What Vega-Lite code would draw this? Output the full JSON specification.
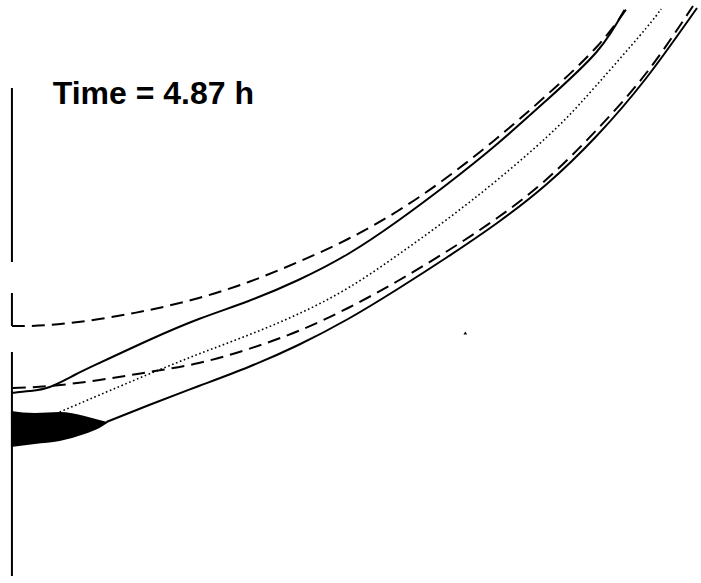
{
  "$schema": "https://vega.github.io/schema/vega-lite/v6.json",
  "width": 701,
  "height": 583,
  "padding": 0,
  "autosize": {"type": "fit", "contains": "padding"},
  "background": "white",
  "config": {"view": {"stroke": null}},
  "datasets": {
    "curves": [
      {"series": "upperDashed", "style": "dashed", "x": 12, "y": 326},
      {"series": "upperDashed", "style": "dashed", "x": 50, "y": 325},
      {"series": "upperDashed", "style": "dashed", "x": 100, "y": 319},
      {"series": "upperDashed", "style": "dashed", "x": 150, "y": 310},
      {"series": "upperDashed", "style": "dashed", "x": 200, "y": 298},
      {"series": "upperDashed", "style": "dashed", "x": 250, "y": 282},
      {"series": "upperDashed", "style": "dashed", "x": 300, "y": 262},
      {"series": "upperDashed", "style": "dashed", "x": 350, "y": 239},
      {"series": "upperDashed", "style": "dashed", "x": 400, "y": 211},
      {"series": "upperDashed", "style": "dashed", "x": 450, "y": 177},
      {"series": "upperDashed", "style": "dashed", "x": 500, "y": 138},
      {"series": "upperDashed", "style": "dashed", "x": 550, "y": 95},
      {"series": "upperDashed", "style": "dashed", "x": 600, "y": 47},
      {"series": "upperDashed", "style": "dashed", "x": 632, "y": 6},

      {"series": "upperSolid", "style": "solid", "x": 12, "y": 393},
      {"series": "upperSolid", "style": "solid", "x": 30, "y": 391},
      {"series": "upperSolid", "style": "solid", "x": 50, "y": 387},
      {"series": "upperSolid", "style": "solid", "x": 75, "y": 375},
      {"series": "upperSolid", "style": "solid", "x": 100, "y": 363},
      {"series": "upperSolid", "style": "solid", "x": 150, "y": 340},
      {"series": "upperSolid", "style": "solid", "x": 200, "y": 319},
      {"series": "upperSolid", "style": "solid", "x": 250, "y": 301},
      {"series": "upperSolid", "style": "solid", "x": 300, "y": 280},
      {"series": "upperSolid", "style": "solid", "x": 350, "y": 254},
      {"series": "upperSolid", "style": "solid", "x": 400, "y": 221},
      {"series": "upperSolid", "style": "solid", "x": 450, "y": 184},
      {"series": "upperSolid", "style": "solid", "x": 500, "y": 144},
      {"series": "upperSolid", "style": "solid", "x": 550, "y": 100},
      {"series": "upperSolid", "style": "solid", "x": 600, "y": 52},
      {"series": "upperSolid", "style": "solid", "x": 628, "y": 10},

      {"series": "lowerDashed", "style": "dashed", "x": 13, "y": 388},
      {"series": "lowerDashed", "style": "dashed", "x": 50, "y": 386},
      {"series": "lowerDashed", "style": "dashed", "x": 100, "y": 380},
      {"series": "lowerDashed", "style": "dashed", "x": 150, "y": 372},
      {"series": "lowerDashed", "style": "dashed", "x": 200, "y": 363},
      {"series": "lowerDashed", "style": "dashed", "x": 250, "y": 349},
      {"series": "lowerDashed", "style": "dashed", "x": 300, "y": 331},
      {"series": "lowerDashed", "style": "dashed", "x": 350, "y": 308},
      {"series": "lowerDashed", "style": "dashed", "x": 400, "y": 281},
      {"series": "lowerDashed", "style": "dashed", "x": 450, "y": 251},
      {"series": "lowerDashed", "style": "dashed", "x": 500, "y": 218},
      {"series": "lowerDashed", "style": "dashed", "x": 550, "y": 179},
      {"series": "lowerDashed", "style": "dashed", "x": 600, "y": 130},
      {"series": "lowerDashed", "style": "dashed", "x": 650, "y": 73},
      {"series": "lowerDashed", "style": "dashed", "x": 697, "y": 6},

      {"series": "lowerSolid", "style": "solid", "x": 107, "y": 422},
      {"series": "lowerSolid", "style": "solid", "x": 150, "y": 405},
      {"series": "lowerSolid", "style": "solid", "x": 200, "y": 386},
      {"series": "lowerSolid", "style": "solid", "x": 250, "y": 367},
      {"series": "lowerSolid", "style": "solid", "x": 300, "y": 345},
      {"series": "lowerSolid", "style": "solid", "x": 350, "y": 319},
      {"series": "lowerSolid", "style": "solid", "x": 400, "y": 289},
      {"series": "lowerSolid", "style": "solid", "x": 450, "y": 257},
      {"series": "lowerSolid", "style": "solid", "x": 500, "y": 223},
      {"series": "lowerSolid", "style": "solid", "x": 550, "y": 184},
      {"series": "lowerSolid", "style": "solid", "x": 600, "y": 136},
      {"series": "lowerSolid", "style": "solid", "x": 650, "y": 78},
      {"series": "lowerSolid", "style": "solid", "x": 701, "y": 8},

      {"series": "center", "style": "dotted", "x": 60, "y": 412},
      {"series": "center", "style": "dotted", "x": 100, "y": 395},
      {"series": "center", "style": "dotted", "x": 150, "y": 374},
      {"series": "center", "style": "dotted", "x": 200, "y": 354},
      {"series": "center", "style": "dotted", "x": 250, "y": 335},
      {"series": "center", "style": "dotted", "x": 300, "y": 314},
      {"series": "center", "style": "dotted", "x": 350, "y": 288},
      {"series": "center", "style": "dotted", "x": 400, "y": 255},
      {"series": "center", "style": "dotted", "x": 450, "y": 219},
      {"series": "center", "style": "dotted", "x": 500, "y": 180},
      {"series": "center", "style": "dotted", "x": 550, "y": 137},
      {"series": "center", "style": "dotted", "x": 583, "y": 104},
      {"series": "center", "style": "dotted", "x": 617, "y": 66},
      {"series": "center", "style": "dotted", "x": 650, "y": 28},
      {"series": "center", "style": "dotted", "x": 665, "y": 9}
    ],
    "blob": [
      {"x": 11, "top": 411, "bottom": 447},
      {"x": 35, "top": 413, "bottom": 444},
      {"x": 60, "top": 412, "bottom": 441},
      {"x": 85, "top": 416, "bottom": 434},
      {"x": 100, "top": 420, "bottom": 428},
      {"x": 108, "top": 422, "bottom": 423}
    ],
    "axisSegments": [
      {"x": 12, "y1": 88, "y2": 262},
      {"x": 12, "y1": 293, "y2": 326},
      {"x": 12, "y1": 352, "y2": 576}
    ],
    "labels": [
      {"x": 53, "y": 104, "text": "Time = 4.87 h"}
    ],
    "specks": [
      {"x": 468, "y": 333}
    ]
  },
  "encoding": {
    "x": {"field": "x", "type": "quantitative", "scale": {"domain": [0, 701], "nice": false, "zero": false}, "axis": null},
    "y": {"field": "y", "type": "quantitative", "scale": {"domain": [0, 583], "nice": false, "zero": false, "reverse": true}, "axis": null}
  },
  "layer": [
    {
      "data": {"name": "axisSegments"},
      "mark": {"type": "rule", "color": "black", "strokeWidth": 2},
      "encoding": {
        "y": {"field": "y1", "type": "quantitative"},
        "y2": {"field": "y2"}
      }
    },
    {
      "data": {"name": "blob"},
      "mark": {"type": "area", "color": "black", "interpolate": "monotone"},
      "encoding": {
        "y": {"field": "top", "type": "quantitative"},
        "y2": {"field": "bottom"}
      }
    },
    {
      "data": {"name": "curves"},
      "transform": [{"filter": "datum.style === 'solid'"}],
      "mark": {"type": "line", "color": "black", "strokeWidth": 2, "interpolate": "natural"},
      "encoding": {"detail": {"field": "series"}}
    },
    {
      "data": {"name": "curves"},
      "transform": [{"filter": "datum.style === 'dashed'"}],
      "mark": {"type": "line", "color": "black", "strokeWidth": 2, "strokeDash": [13, 7], "interpolate": "natural"},
      "encoding": {"detail": {"field": "series"}}
    },
    {
      "data": {"name": "curves"},
      "transform": [{"filter": "datum.style === 'dotted'"}],
      "mark": {"type": "line", "color": "black", "strokeWidth": 1.6, "strokeDash": [1.6, 2.6], "interpolate": "natural"},
      "encoding": {"detail": {"field": "series"}}
    },
    {
      "data": {"name": "specks"},
      "mark": {"type": "point", "shape": "triangle-up", "filled": true, "color": "black", "size": 14, "opacity": 1}
    },
    {
      "data": {"name": "labels"},
      "mark": {"type": "text", "align": "left", "baseline": "alphabetic", "font": "Liberation Sans", "fontWeight": "bold", "fontSize": 32, "color": "black"},
      "encoding": {"text": {"field": "text"}}
    }
  ]
}
